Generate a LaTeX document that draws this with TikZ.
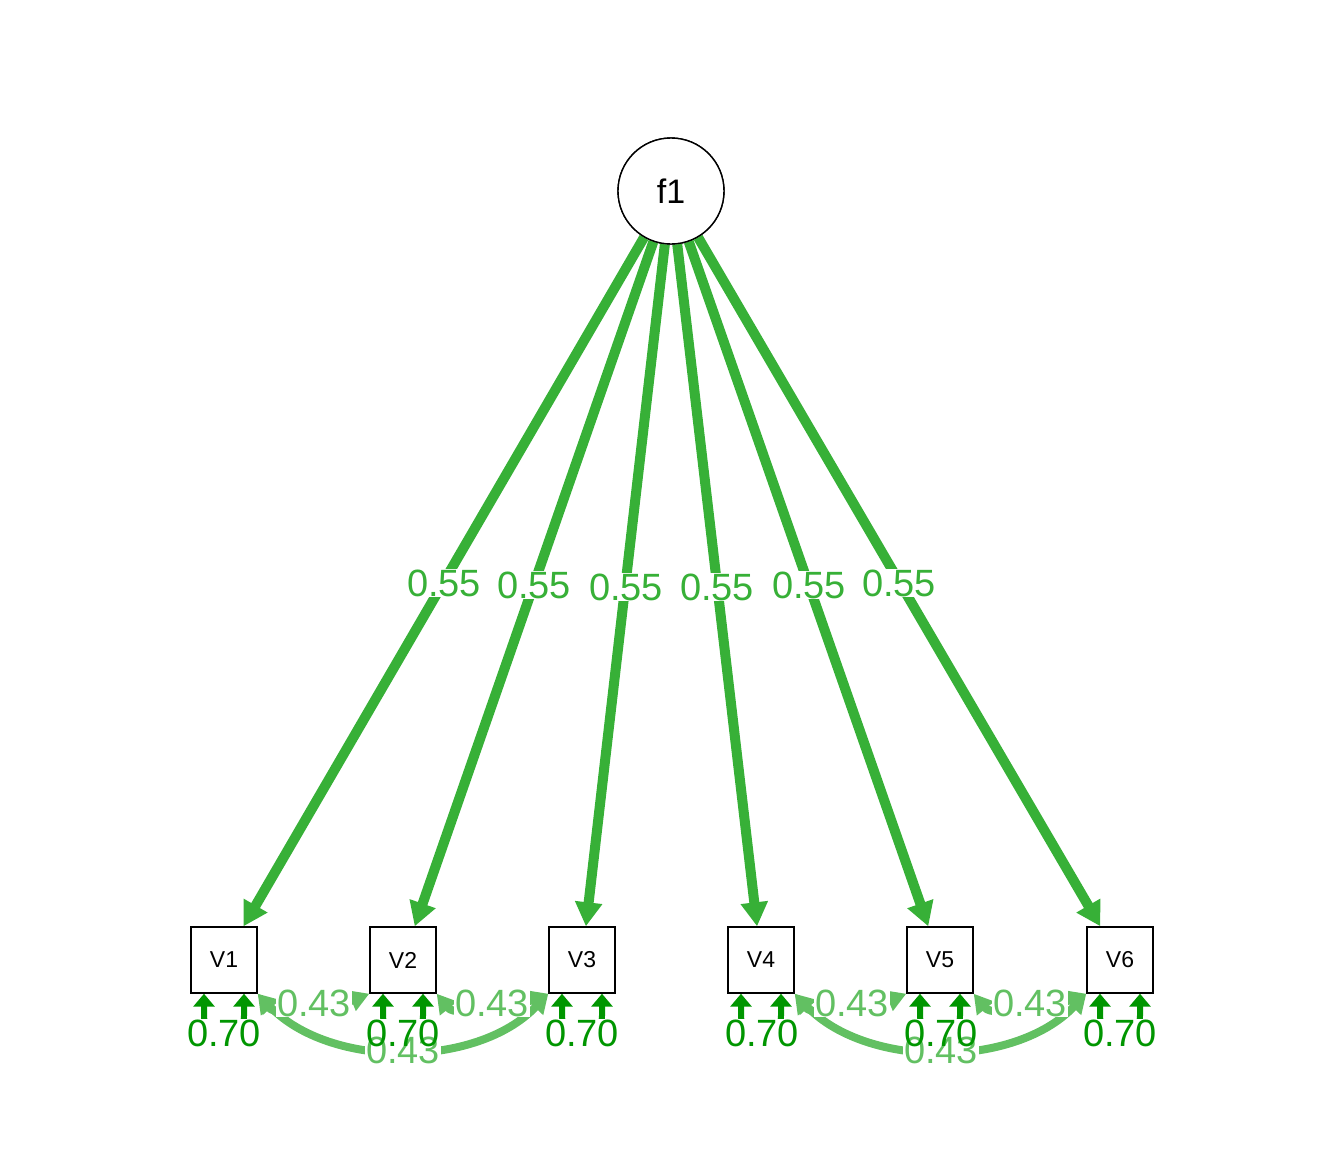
\documentclass[tikz,border=0pt]{standalone}
\usepackage{fontspec}
\setmainfont{Liberation Sans}
\usetikzlibrary{arrows.meta,calc}

\definecolor{loadgreen}{RGB}{55,176,55}
\definecolor{residgreen}{RGB}{0,150,0}
\definecolor{covgreen}{RGB}{98,192,98}

\tikzset{
  latent/.style={circle, draw, line width=1.4pt, fill=white, minimum size=106pt, inner sep=0pt,
    font=\fontsize{34}{34}\selectfont},
  manifest/.style={rectangle, draw, line width=1.4pt, fill=white, minimum size=66pt, inner sep=0pt,
    font=\fontsize{23}{23}\selectfont},
  loading/.style={draw=loadgreen, line width=10pt,
    -{Triangle[length=24pt,width=26pt]}},
  resid/.style={draw=residgreen, line width=6pt,
    {Triangle[length=13pt,width=21pt]}-{Triangle[length=13pt,width=21pt]}},
  cov/.style={draw=covgreen, line width=8pt,
    {Triangle[length=19pt,width=21pt]}-{Triangle[length=19pt,width=21pt]}},
  labbg/.style={fill=white, text opacity=0, inner sep=1pt, font=\fontsize{38}{38}\selectfont},
  labfg/.style={inner sep=1pt, font=\fontsize{38}{38}\selectfont},
}

\begin{document}
\begin{tikzpicture}[x=1pt, y=-1pt]
  \useasboundingbox (0,0) rectangle (1344,1152);

  % latent factor and indicators
  \node[latent] (f1) at (671,191) {f1};
  \node[manifest] (v1) at (224,960) {V1};
  \node[manifest] (v2) at (403,960) {V2};
  \node[manifest] (v3) at (582,960) {V3};
  \node[manifest] (v4) at (761,960) {V4};
  \node[manifest] (v5) at (940,960) {V5};
  \node[manifest] (v6) at (1120,960) {V6};

  % factor loadings
  \foreach \v in {v1,v2,v3,v4,v5,v6}
    \draw[loading] (f1) -- (\v);

  % residual variances: short vertical stems joined by a loop under the box
  \foreach \v in {v1,v2,v3,v4,v5,v6} {
    \coordinate (\v-rl) at ([xshift=-20pt]\v.south);
    \coordinate (\v-rr) at ([xshift=20pt]\v.south);
    \draw[resid] (\v-rl) -- ++(0,22) .. controls +(0,30) and +(0,30) .. ($(\v-rr)+(0,22)$) -- (\v-rr);
  }

  % residual covariances
  \draw[cov] (v1.south east) .. controls +(20,25) and +(-25,10) .. (v2.south west);
  \draw[cov] (v2.south east) .. controls +(20,25) and +(-25,10) .. (v3.south west);
  \draw[cov] (v1.south east) .. controls +(72,75) and +(-72,75) .. (v3.south west);
  \draw[cov] (v4.south east) .. controls +(20,25) and +(-25,10) .. (v5.south west);
  \draw[cov] (v5.south east) .. controls +(20,25) and +(-25,10) .. (v6.south west);
  \draw[cov] (v4.south east) .. controls +(72,75) and +(-72,75) .. (v6.south west);

  % redraw boxes above the edges
  \foreach \v/\t/\x in {v1/V1/224,v2/V2/403,v3/V3/582,v4/V4/761,v5/V5/940,v6/V6/1120}
    \node[manifest] at (\x,960) {\t};
  \node[latent] at (671,191) {f1};

  % edge labels: white backgrounds first, then the numbers
  \def\lablist{
    444/583/loadgreen/0.55, 534/585/loadgreen/0.55, 626/587/loadgreen/0.55,
    717/587/loadgreen/0.55, 809/585/loadgreen/0.55, 899/583/loadgreen/0.55,
    314/1003/covgreen/0.43, 492/1003/covgreen/0.43, 403/1050/covgreen/0.43,
    852/1003/covgreen/0.43, 1030/1003/covgreen/0.43, 941/1050/covgreen/0.43,
    224/1033/residgreen/0.70, 403/1033/residgreen/0.70, 582/1033/residgreen/0.70,
    762/1033/residgreen/0.70, 941/1033/residgreen/0.70, 1120/1033/residgreen/0.70}
  \foreach \x/\y/\c/\t [count=\i] in \lablist
    \node[labbg] (bg\i) at (\x,\y) {\t};
  \foreach \x/\y/\c/\t [count=\i] in \lablist
    \node[labfg, text=\c] (lab\i) at (\x,\y) {\t};
\end{tikzpicture}
\end{document}
